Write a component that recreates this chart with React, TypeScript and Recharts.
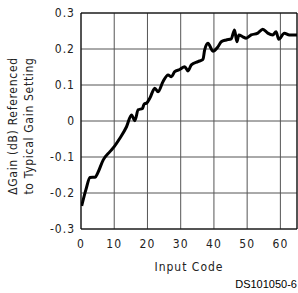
import { CartesianGrid, Line, LineChart, ReferenceLine, XAxis, YAxis } from "recharts";

const inputCode = [
  0.2, 1.5, 2.7, 3.5, 4.3, 5, 6.7, 8.7, 10, 11.7, 13.7, 15.2, 16.2, 17.2, 18.5, 19, 19.8, 20.7,
  22.2, 23.2, 24.7, 26.2, 27.2, 28.2, 29.7, 31.2, 32.2, 33.2, 35.2, 36.7, 37.2, 38.2, 39.7, 41.2,
  42.2, 43.7, 45.2, 46.2, 46.9, 47.5, 48.7, 49.7, 51.2, 53.2, 54.7, 56.2, 57.7, 58.7, 59.5, 61.2,
  62.7, 65
];
const deltaGain = [
  -0.236, -0.19, -0.157, -0.156, -0.156, -0.145, -0.108, -0.085, -0.071, -0.048, -0.016, 0.017,
  0.001, 0.031, 0.035, 0.047, 0.05, 0.063, 0.091, 0.081, 0.11, 0.128, 0.123, 0.137, 0.143, 0.151,
  0.139, 0.156, 0.165, 0.171, 0.197, 0.216, 0.194, 0.206, 0.22, 0.225, 0.228, 0.253, 0.22, 0.239,
  0.234, 0.23, 0.239, 0.244, 0.255, 0.244, 0.239, 0.248, 0.227, 0.244, 0.239, 0.239
];
const xTicks = [0, 10, 20, 30, 40, 50, 60];
const yTicks = [-0.3, -0.2, -0.1, 0, 0.1, 0.2, 0.3];

const data = inputCode.map((x, i) => ({ x, y: deltaGain[i] }));

const font = "DejaVu Sans Condensed, DejaVu Sans, sans-serif";
const tickStyle = { fontSize: 12, fill: "#222", fontFamily: font, letterSpacing: 1 };

function YTitle() {
  return (
    <g fontFamily={font} fontSize={12} fill="#222" textAnchor="middle" letterSpacing={0.7}>
      <text transform="translate(17,126) rotate(-90)">ΔGain (dB) Referenced</text>
      <text transform="translate(33,126) rotate(-90)">to Typical Gain Setting</text>
    </g>
  );
}

export default function App() {
  return (
    <div style={{ position: "fixed", left: 0, top: 0, width: 298, height: 293, background: "#fff" }}>
      <LineChart width={298} height={293} data={data} margin={{ top: 13, right: 1, bottom: 34, left: 0 }}>
        <CartesianGrid stroke="#555" strokeWidth={1} />
        <XAxis
          dataKey="x"
          type="number"
          domain={[0, 65]}
          ticks={xTicks}
          tickLine={false}
          axisLine={{ stroke: "#000" }}
          tickSize={0}
          tickMargin={10}
          tick={tickStyle}
          allowDataOverflow
        />
        <YAxis
          type="number"
          domain={[-0.3, 0.3]}
          ticks={yTicks}
          width={81}
          tickLine={false}
          axisLine={{ stroke: "#000" }}
          tickSize={0}
          tickMargin={6}
          tick={tickStyle}
          label={{ content: () => <YTitle /> }}
        />
        <ReferenceLine x={65} stroke="#000" />
        <ReferenceLine y={0.3} stroke="#000" />
        <Line
          dataKey="y"
          type="monotone"
          stroke="#000"
          strokeWidth={3}
          dot={false}
          isAnimationActive={false}
        />
        <text x={189} y={271} textAnchor="middle" fontFamily={font} fontSize={12} fill="#222" letterSpacing={1}>
          Input Code
        </text>
        <text x={297} y={288} textAnchor="end" fontFamily="Liberation Sans, Arial, sans-serif" fontSize={11} fill="#000">
          DS101050-6
        </text>
      </LineChart>
    </div>
  );
}
